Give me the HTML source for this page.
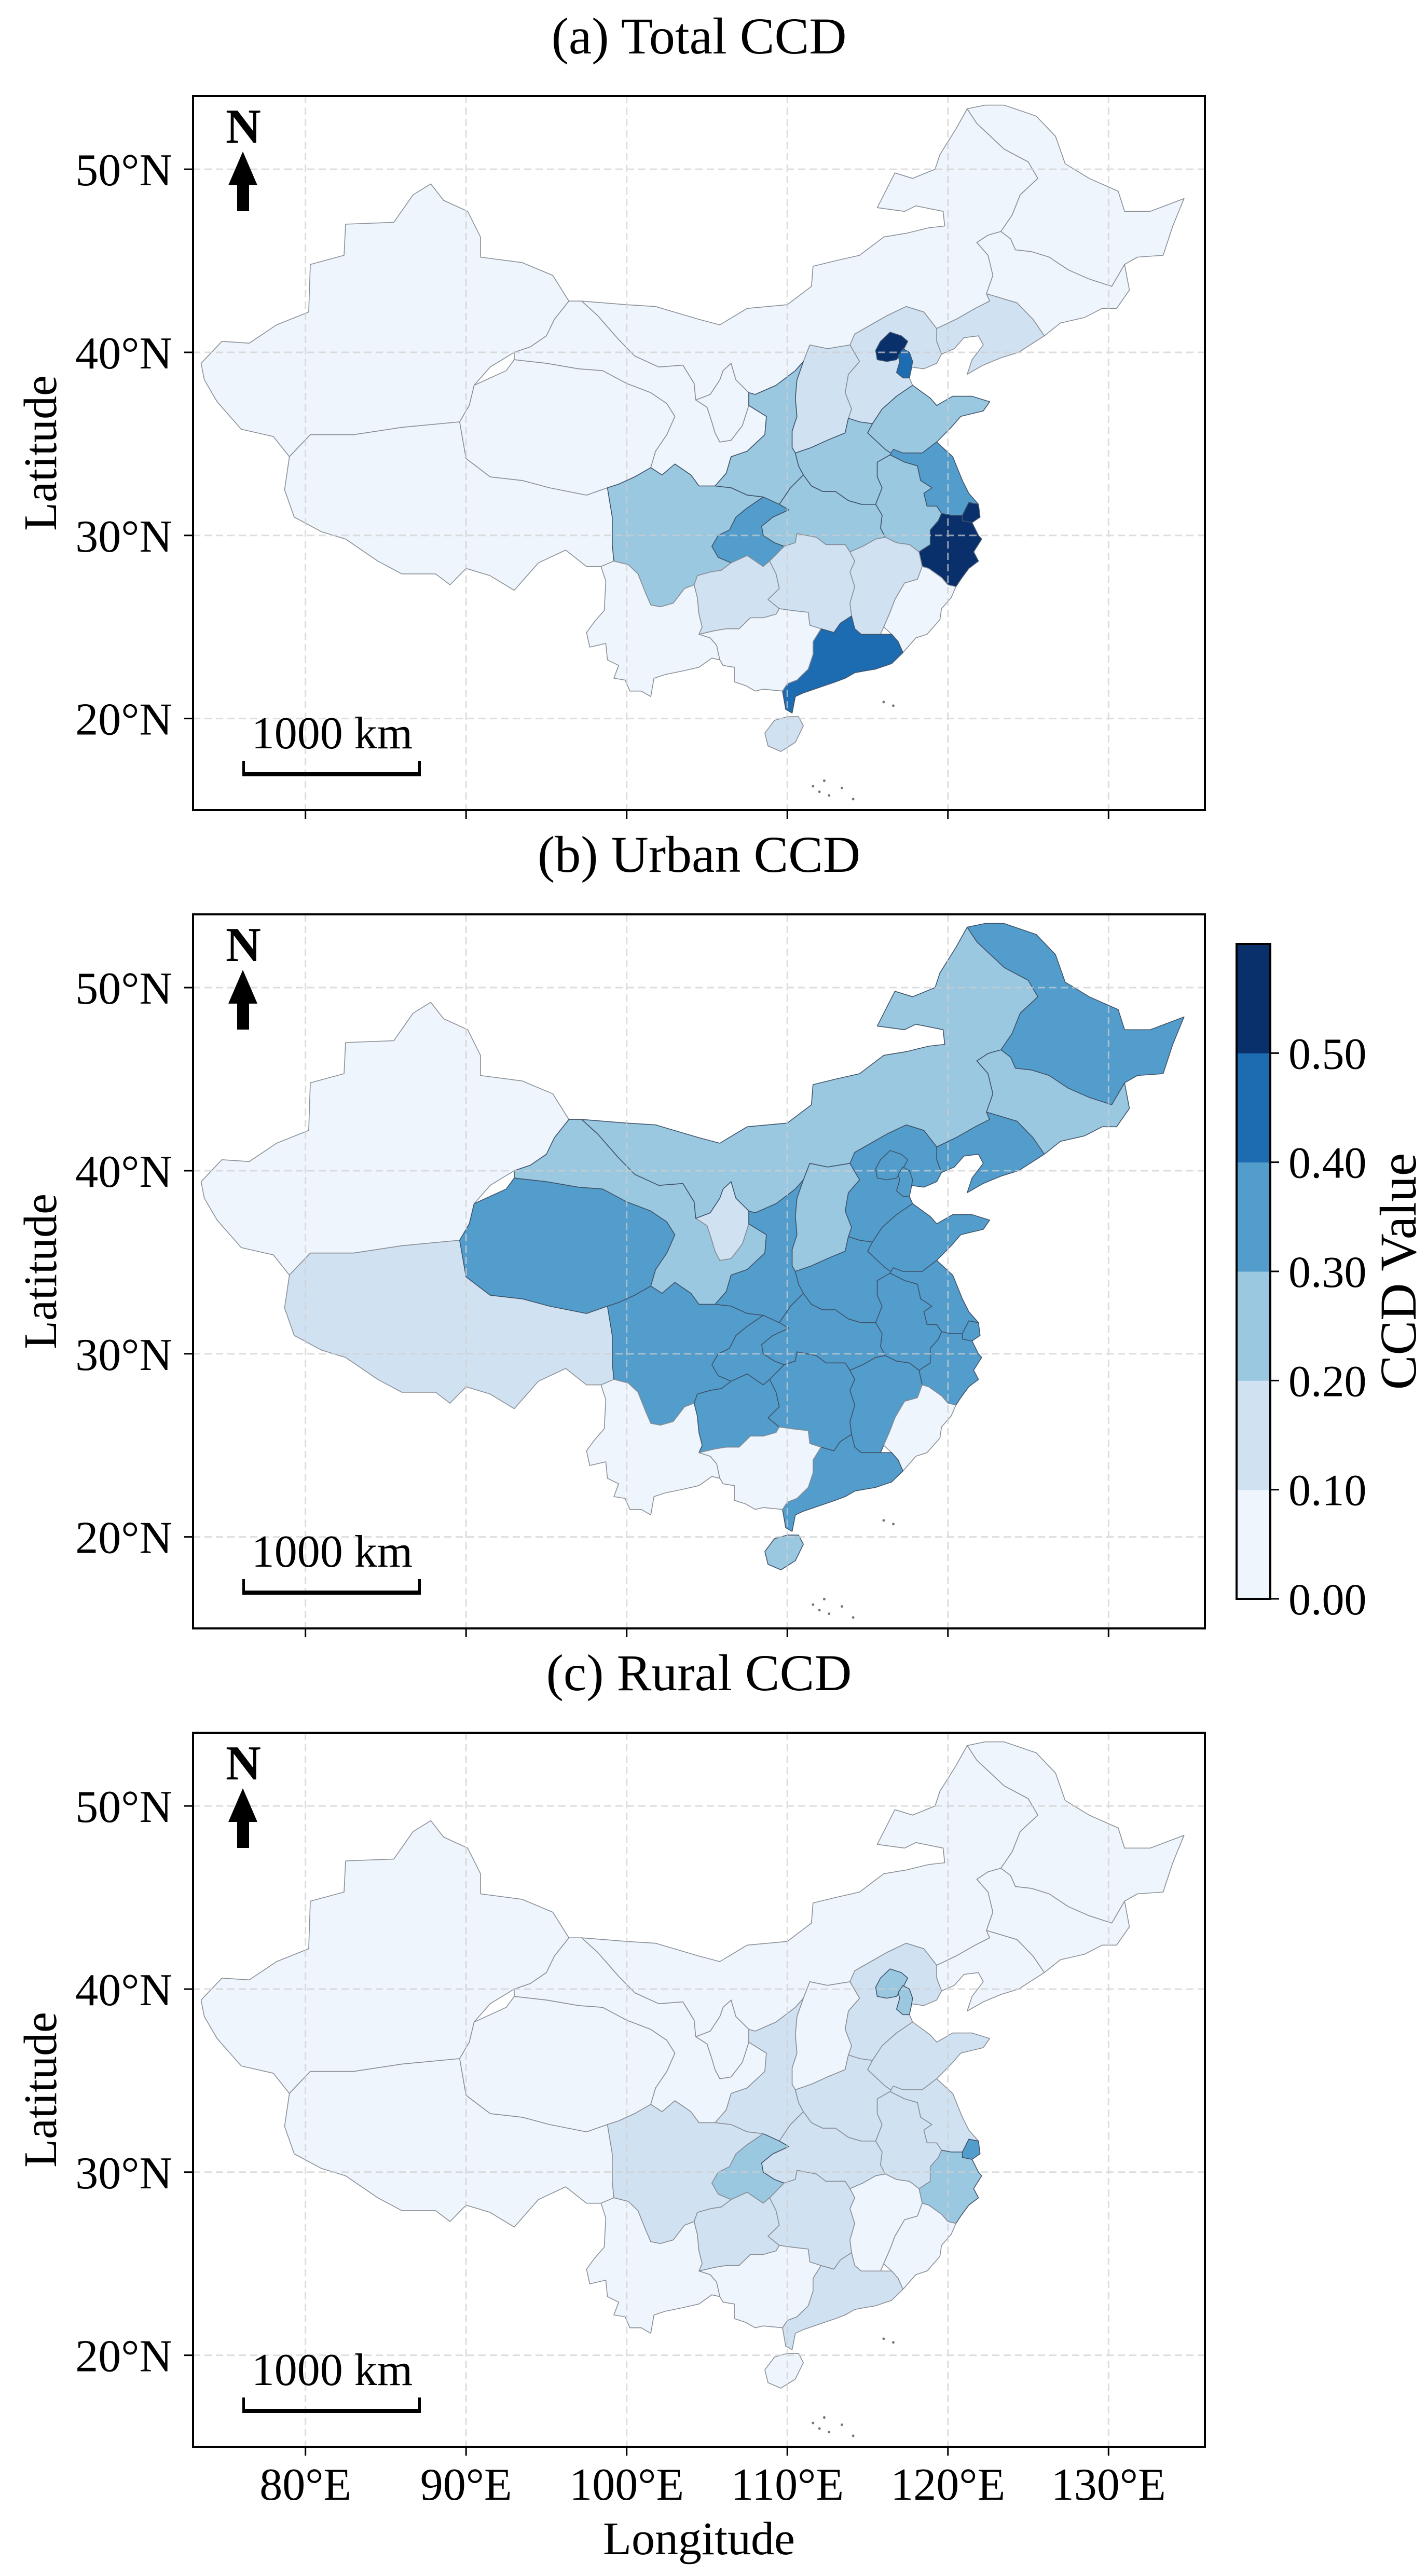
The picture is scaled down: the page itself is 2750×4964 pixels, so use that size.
<!DOCTYPE html>
<html>
<head>
<meta charset="utf-8">
<style>
html,body{margin:0;padding:0;background:#fff;}
svg{display:block;}
text{font-family:"Liberation Serif","DejaVu Serif",serif;fill:#000;}
</style>
</head>
<body>
<svg id="fig" xmlns="http://www.w3.org/2000/svg" width="2750" height="4964" viewBox="0 0 2750 4964">
<rect x="0" y="0" width="2750" height="4964" fill="#fff"/>
<g id="panels"></g>
<g id="cbar"></g>
<text x="1347" y="4922" font-size="90" text-anchor="middle">Longitude</text>
</svg>
<script>
// ---------- data ----------
const provinceNames = ["XJ","XZ","QH","GS","NX","NM","HL","JL","LN","HE","BJ","TJ","SX","SN","HA","SD","JS","SH","ZJ","AH","HB","CQ","SC","YN","GZ","HN","JX","FJ","GD","GX","HI"];
const totalCCD = [0.06,0.05,0.07,0.08,0.09,0.08,0.07,0.09,0.15,0.16,0.56,0.45,0.14,0.25,0.26,0.28,0.36,0.58,0.55,0.24,0.27,0.34,0.25,0.08,0.15,0.17,0.16,0.09,0.46,0.08,0.14];
const urbanCCD = [0.07,0.15,0.34,0.25,0.17,0.26,0.33,0.27,0.35,0.34,0.36,0.35,0.27,0.34,0.35,0.36,0.38,0.38,0.37,0.34,0.35,0.34,0.33,0.08,0.32,0.34,0.33,0.09,0.36,0.09,0.24];
const ruralCCD = [0.04,0.05,0.05,0.06,0.07,0.06,0.07,0.08,0.09,0.15,0.25,0.24,0.09,0.14,0.16,0.17,0.18,0.33,0.26,0.15,0.16,0.25,0.14,0.06,0.13,0.15,0.09,0.08,0.14,0.07,0.08];
const panelTitles = ["(a) Total CCD","(b) Urban CCD","(c) Rural CCD"];
const lonTicks = [80,90,100,110,120,130];
const latTicks = [20,30,40,50];
const cbarTicks = [0.0,0.1,0.2,0.3,0.4,0.5];
const binColors = ["#eef5fc","#d0e1f2","#9ac8e0","#529dcc","#1d6cb1","#0a306b"];
const provinceShapes = {
XJ:[[73.5,39.4],[74.8,40.6],[76.5,40.5],[78.2,41.5],[80.2,42.2],[80.3,44.8],[82.4,45.3],[82.5,47.0],[85.5,47.1],[86.7,48.6],[87.8,49.2],[88.6,48.3],[90.1,47.7],[90.9,46.3],[90.9,45.2],[93.5,44.9],[95.4,44.2],[96.4,42.8],[95.5,41.8],[95,40.9],[94,40.3],[93,40.0],[91.5,39.2],[90.5,38.2],[90.2,37.1],[89.6,36.2],[86,35.9],[83,35.5],[80.3,35.5],[79,34.3],[78,35.4],[76,35.8],[75,36.8],[74.5,37.3],[73.7,38.5]],
XZ:[[79,34.3],[80.3,35.5],[83,35.5],[86,35.9],[89.6,36.2],[90,34.2],[91.5,33.2],[93.5,33.0],[95.2,32.6],[97.5,32.2],[98.8,32.6],[99.1,31.0],[99.1,29.5],[99.2,28.6],[98.4,28.3],[97.5,28.3],[96.2,29.2],[94.5,28.5],[93,27],[91.5,27.8],[90,28.2],[89,27.3],[88.1,27.9],[86,27.9],[84.5,28.6],[82.5,29.8],[81,30.2],[79.3,31.0],[78.7,32.5]],
QH:[[89.6,36.2],[90.2,37.1],[90.5,38.2],[92.5,39.0],[93,39.6],[95,39.4],[97,39.1],[98.5,39.0],[100,38.3],[101.5,37.8],[102.5,37.2],[103,36.5],[102.5,35.5],[101.8,34.6],[101.5,33.7],[100.5,33.2],[99.5,32.8],[98.8,32.6],[97.5,32.2],[95.2,32.6],[93.5,33.0],[91.5,33.2],[90,34.2]],
GS:[[96.4,42.8],[97.2,42.8],[98.2,42.0],[99.5,40.7],[100.5,39.8],[102,39.2],[103.5,39.3],[104.2,38.3],[104.3,37.4],[105,37.0],[105.3,36.2],[105.5,35.6],[105.8,35.1],[106.5,35.2],[107.2,36.0],[107.6,37.1],[108.7,36.5],[108.6,35.5],[107.5,34.6],[106.5,34.3],[106.2,33.4],[105.5,32.7],[104.5,32.7],[104,33.3],[103,33.9],[102.2,33.3],[101.5,33.7],[101.8,34.6],[102.5,35.5],[103,36.5],[102.5,37.2],[101.5,37.8],[100,38.3],[98.5,39.0],[97,39.1],[95,39.4],[93,39.6],[93,40.0],[94,40.3],[95,40.9],[95.5,41.8]],
NX:[[106.5,39.4],[106.8,38.5],[107.6,37.8],[107.6,37.1],[107.2,36.0],[106.5,35.2],[105.8,35.1],[105.5,35.6],[105.3,36.2],[105,37.0],[104.3,37.4],[105.2,37.7],[105.8,38.5],[106.0,39.0]],
NM:[[97.2,42.8],[100,42.6],[101.8,42.5],[104.5,41.8],[105.8,41.5],[107.5,42.4],[110,42.6],[111.5,43.6],[111.6,44.7],[113,45.0],[114.5,45.3],[116,46.3],[117.4,46.5],[118.8,46.8],[119.8,46.9],[119.7,47.7],[118,48.0],[117.3,47.7],[115.6,47.9],[116.7,49.8],[117.8,49.5],[119.2,50.0],[119.5,50.8],[120.5,52.2],[121.2,53.3],[121.8,52.5],[123.5,51.1],[125,50.4],[125.6,49.5],[124.5,48.6],[124,47.5],[123.3,46.6],[122.5,46.4],[121.8,46.0],[122.5,45.3],[122.8,44.2],[122.4,43.2],[122.6,42.8],[121.7,42.4],[120.5,41.8],[119.3,41.3],[118.5,42.2],[117.4,42.5],[116.2,42.0],[115.4,41.6],[114.2,41.0],[113.9,40.4],[112.5,40.2],[111.4,40.4],[111,39.5],[110.5,39.0],[109.3,38.2],[108,37.7],[107.6,37.8],[106.8,38.5],[106.5,39.4],[106,39.0],[105.8,38.5],[105.2,37.7],[104.3,37.4],[104.2,38.3],[103.5,39.3],[102,39.2],[100.5,39.8],[99.5,40.7],[98.2,42.0]],
HL:[[121.2,53.3],[122.3,53.5],[123.5,53.5],[125.5,52.9],[126.7,51.8],[127.3,50.3],[128.8,49.5],[130.6,48.8],[131,47.7],[132.6,47.7],[134.7,48.4],[134,46.9],[133.4,45.3],[131.8,45.2],[131,44.8],[130.2,43.6],[128.8,44.0],[127.5,44.5],[126.3,45.2],[125.2,45.5],[124.2,45.6],[123.9,46.2],[123.3,46.6],[124,47.5],[124.5,48.6],[125.6,49.5],[125,50.4],[123.5,51.1],[121.8,52.5]],
JL:[[121.8,46.0],[122.5,46.4],[123.3,46.6],[123.9,46.2],[124.2,45.6],[125.2,45.5],[126.3,45.2],[127.5,44.5],[128.8,44.0],[130.2,43.6],[131,44.8],[131.3,43.4],[130.5,42.4],[129.6,42.4],[128.5,41.9],[127,41.6],[126,40.9],[125.3,41.8],[124.3,42.7],[122.4,43.2],[122.8,44.2],[122.5,45.3]],
LN:[[122.4,43.2],[124.3,42.7],[125.3,41.8],[126,40.9],[124.4,40.0],[123.3,39.7],[122.2,39.3],[121.2,38.8],[121.5,39.6],[122.2,40.4],[121.9,40.9],[121,40.8],[120.4,40.2],[119.6,39.9],[119.3,40.6],[119.3,41.3],[120.5,41.8],[121.7,42.4],[122.6,42.8]],
HE:[[119.6,39.9],[119.3,40.6],[119.3,41.3],[118.5,42.2],[117.4,42.5],[116.2,42.0],[115.4,41.6],[114.2,41.0],[113.9,40.4],[114.5,39.5],[113.8,38.8],[113.6,37.8],[114,36.9],[113.8,36.4],[114.5,36.2],[115.3,36.1],[115.9,36.9],[116.8,37.6],[117.8,38.2],[117.6,38.6],[117.7,39.2],[118.5,39.1],[119.3,39.4]],
BJ:[[115.8,40.6],[116.4,41.1],[117.1,40.9],[117.5,40.6],[117.2,40.1],[116.8,39.6],[116.2,39.5],[115.6,39.6],[115.5,40.1]],
TJ:[[117.2,40.2],[117.6,40.0],[117.8,39.5],[117.7,39.0],[117.6,38.6],[117.2,38.6],[116.8,38.9],[117.0,39.5],[116.9,39.8]],
SX:[[113.9,40.4],[112.5,40.2],[111.4,40.4],[111,39.5],[110.6,38.5],[110.5,37.5],[110.6,36.5],[110.3,35.7],[110.3,34.8],[110.5,34.5],[111.5,34.8],[112.5,35.2],[113.6,35.6],[113.8,36.4],[114,36.9],[113.6,37.8],[113.8,38.8],[114.5,39.5]],
SN:[[111,39.5],[110.6,38.5],[110.5,37.5],[110.6,36.5],[110.3,35.7],[110.3,34.8],[110.5,34.5],[110.7,33.8],[111,33.3],[110.2,32.6],[109.5,31.7],[108.5,32.1],[107.5,32.2],[106.5,32.6],[105.5,32.7],[106.2,33.4],[106.5,34.3],[107.5,34.6],[108.6,35.5],[108.7,36.5],[107.6,37.1],[107.6,37.8],[108,37.7],[109.3,38.2],[110.5,39.0]],
HA:[[110.5,34.5],[111.5,34.8],[112.5,35.2],[113.6,35.6],[113.8,36.4],[114.5,36.2],[115.3,36.1],[115,35.6],[116.1,34.7],[116.6,34.4],[115.6,34.0],[115.6,33.2],[115.9,32.6],[115.5,31.7],[114.6,31.7],[113.8,31.9],[113,32.4],[112.2,32.4],[111.5,32.7],[111,33.3],[110.7,33.8]],
SD:[[115.3,36.1],[115.9,36.9],[116.8,37.6],[117.8,38.2],[118.9,37.5],[119.3,37.1],[120.3,37.6],[121.5,37.6],[122.6,37.3],[122.2,36.8],[120.8,36.5],[120.2,35.9],[119.3,35.1],[118.4,34.5],[117.2,34.5],[116.6,34.4],[116.1,34.7],[115,35.6]],
JS:[[119.3,35.1],[120.3,34.3],[120.9,33.0],[121.3,32.3],[121.9,31.7],[121.3,31.8],[120.9,31.1],[120.2,31.1],[119.6,31.2],[119.3,31.6],[118.7,31.6],[118.5,32.3],[119.0,32.6],[118.3,33.0],[118.1,33.8],[117.3,34.0],[116.4,34.4],[116.6,34.7],[117.2,34.5],[118.4,34.5]],
SH:[[121.3,31.8],[121.9,31.7],[122.0,31.0],[121.5,30.7],[120.9,30.8],[120.9,31.1]],
ZJ:[[120.9,31.1],[120.9,30.8],[121.5,30.7],[121.9,30.0],[122.1,29.8],[121.6,29.1],[121.9,28.6],[121.3,28.2],[120.8,27.6],[120.5,27.2],[120.0,27.3],[119.6,27.7],[118.8,28.2],[118.4,28.3],[118.2,29.1],[118.9,29.5],[118.9,30.3],[119.4,30.8],[119.6,31.2],[120.2,31.1]],
AH:[[116.4,34.4],[117.3,34.0],[118.1,33.8],[118.3,33.0],[119.0,32.6],[118.5,32.3],[118.7,31.6],[119.3,31.6],[119.6,31.2],[119.4,30.8],[118.9,30.3],[118.9,29.5],[118.2,29.1],[117.6,29.5],[116.8,29.6],[116.1,29.9],[115.8,30.4],[115.9,31.1],[115.5,31.7],[115.9,32.6],[115.6,33.2],[115.6,34.0]],
HB:[[110.2,32.6],[111,33.3],[111.5,32.7],[112.2,32.4],[113,32.4],[113.8,31.9],[114.6,31.7],[115.5,31.7],[115.9,31.1],[115.8,30.4],[116.1,29.9],[115.5,29.8],[114.7,29.4],[113.9,29.1],[113.6,29.5],[112.4,29.5],[111.8,29.9],[110.6,30.1],[110.5,29.6],[109.8,29.4],[109.2,29.6],[108.5,30.0],[108.4,30.5],[109.1,31.0],[110.1,31.4],[109.5,31.7]],
CQ:[[109.5,31.7],[110.1,31.4],[109.1,31.0],[108.4,30.5],[108.5,30.0],[109.2,29.6],[109.8,29.4],[108.9,28.6],[108.5,28.3],[107.5,28.9],[106.5,28.5],[105.7,28.8],[105.3,29.4],[105.7,30.0],[106.4,30.3],[106.8,31.0],[107.5,31.5],[108.5,32.1]],
SC:[[98.8,32.6],[99.5,32.8],[100.5,33.2],[101.5,33.7],[102.2,33.3],[103,33.9],[104,33.3],[104.5,32.7],[105.5,32.7],[106.5,32.6],[107.5,32.2],[108.5,32.1],[107.5,31.5],[106.8,31.0],[106.4,30.3],[105.7,30.0],[105.3,29.4],[105.7,28.8],[106.5,28.5],[105.9,28.1],[105.2,28.0],[104.4,27.8],[104.2,27.3],[103.6,27.1],[102.9,26.3],[102.1,26.1],[101.5,26.2],[101.2,26.8],[100.7,27.9],[100.1,28.4],[99.2,28.6],[99.1,29.5],[99.1,31.0]],
YN:[[98.4,28.3],[99.2,28.6],[100.1,28.4],[100.7,27.9],[101.2,26.8],[101.5,26.2],[102.1,26.1],[102.9,26.3],[103.6,27.1],[104.2,27.3],[104.4,26.6],[104.5,25.7],[104.7,25.0],[104.5,24.6],[105.2,24.4],[105.6,24.0],[105.8,23.2],[105.3,23.3],[104.5,22.8],[103.5,22.6],[102.4,22.4],[101.7,22.2],[101.5,21.2],[100.9,21.5],[100.2,21.5],[99.9,22.1],[99.2,22.2],[99.5,22.9],[98.8,23.2],[98.7,24.1],[97.7,23.9],[97.5,24.7],[98.0,25.3],[98.6,25.9],[98.7,27.5]],
GZ:[[104.2,27.3],[104.4,27.8],[105.2,28.0],[105.9,28.1],[106.5,28.5],[107.5,28.9],[108.5,28.3],[108.9,28.6],[109.3,27.9],[109.5,27.1],[108.8,26.5],[109.5,26.0],[109.3,25.7],[108.5,25.5],[107.7,25.5],[107.0,24.9],[106.2,24.9],[105.5,24.8],[104.5,24.6],[104.7,25.0],[104.5,25.7],[104.4,26.6]],
HN:[[108.9,28.6],[109.8,29.4],[110.5,29.6],[110.6,30.1],[111.8,29.9],[112.4,29.5],[113.6,29.5],[113.9,29.1],[114.2,28.6],[113.9,28.0],[114.2,27.2],[113.9,26.3],[114.0,25.6],[113.3,25.2],[112.9,24.7],[112.1,24.9],[111.4,25.1],[111.3,25.8],[110.3,25.9],[109.5,26.0],[108.8,26.5],[109.5,27.1],[109.3,27.9]],
JX:[[113.9,29.1],[114.7,29.4],[115.5,29.8],[116.1,29.9],[116.8,29.6],[117.6,29.5],[118.2,29.1],[118.4,28.3],[118.1,27.6],[117.3,27.4],[116.7,26.5],[116.4,25.8],[116.0,25.0],[115.8,24.6],[115.3,24.6],[114.6,24.6],[114.2,24.9],[114.0,25.6],[113.9,26.3],[114.2,27.2],[113.9,28.0],[114.2,28.6]],
FJ:[[118.4,28.3],[118.8,28.2],[119.6,27.7],[120.0,27.3],[120.5,27.2],[120.2,26.6],[119.6,26.0],[119.5,25.4],[118.7,24.6],[118.0,24.4],[117.2,23.6],[116.9,24.2],[116.5,24.6],[116.0,25.0],[116.4,25.8],[116.7,26.5],[117.3,27.4],[118.1,27.6]],
GD:[[116.5,24.6],[116.9,24.2],[117.2,23.6],[116.5,23.0],[115.5,22.7],[114.8,22.6],[114.2,22.5],[113.6,22.2],[113.0,22.0],[112.0,21.7],[111.0,21.4],[110.5,21.2],[110.3,20.3],[109.9,20.5],[109.7,21.5],[110.0,21.9],[110.6,22.1],[111.3,22.7],[111.6,23.5],[111.6,24.2],[112.1,24.9],[112.9,24.7],[113.3,25.2],[114.0,25.6],[114.2,24.9],[114.6,24.6],[115.3,24.6],[115.8,24.6]],
GX:[[104.5,24.6],[105.5,24.8],[106.2,24.9],[107.0,24.9],[107.7,25.5],[108.5,25.5],[109.3,25.7],[109.5,26.0],[110.3,25.9],[111.3,25.8],[111.4,25.1],[112.1,24.9],[111.6,24.2],[111.6,23.5],[111.3,22.7],[110.6,22.1],[110.0,21.9],[109.7,21.5],[108.5,21.6],[108.0,21.5],[107.4,21.8],[106.7,22.0],[106.7,22.8],[106.0,22.9],[105.8,23.2],[105.6,24.0],[105.2,24.4]],
HI:[[108.6,19.2],[109.2,19.9],[110.0,20.1],[110.7,20.1],[111.0,19.6],[110.5,18.7],[109.6,18.2],[108.8,18.5]]
};
const islandLon = [116.0,116.6,111.6,112.0,112.3,112.6,113.4,114.1];
const islandLat = [20.9,20.7,16.3,16.0,16.6,15.8,16.2,15.6];

// ---------- layout ----------
const NS = "http://www.w3.org/2000/svg";
const AX_L = 372, AX_R = 2322, LON0 = 73.0, LON1 = 136.0;
const LAT0 = 15.0, LAT1 = 54.0, PANEL_H = 1376;
const panelTops = [185, 1762, 3339];
function xOf(lon){ return AX_L + (lon - LON0) / (LON1 - LON0) * (AX_R - AX_L); }
function yOf(lat, top){ return top + (LAT1 - lat) / (LAT1 - LAT0) * PANEL_H; }
function binOf(v){ let b = Math.floor(v / 0.1 + 1e-9); return Math.max(0, Math.min(5, b)); }
function mk(tag, attrs, parent){ const e = document.createElementNS(NS, tag); for (const k in attrs) e.setAttribute(k, attrs[k]); parent.appendChild(e); return e; }

const panelsG = document.getElementById('panels');
const series = [totalCCD, urbanCCD, ruralCCD];
const panelKeys = ['total','urban','rural'];

series.forEach((vals, pi) => {
  const top = panelTops[pi], bot = top + PANEL_H;
  const g = mk('g', {}, panelsG);
  
  
  const cid = 'clip' + pi;
  const cp = mk('clipPath', {id: cid}, g);
  mk('rect', {x: AX_L, y: top, width: AX_R - AX_L, height: PANEL_H}, cp);
  // title
  const t = mk('text', {x: (AX_L + AX_R) / 2, y: top - 82, 'font-size': 100, 'text-anchor': 'middle'}, g);
  t.textContent = panelTitles[pi];
  
  
  // provinces
  const mapG = mk('g', {'clip-path': 'url(#' + cid + ')'}, g);
  
  
  provinceNames.forEach((nm, i) => {
    const pts = provinceShapes[nm].map(p => xOf(p[0]).toFixed(1) + ',' + yOf(p[1], top).toFixed(1)).join(' ');
    const b = binOf(vals[i]);
    const poly = mk('polygon', {points: pts, fill: binColors[b], stroke: b >= 2 ? '#40536a' : '#8a8f96', 'stroke-width': 1.6, 'stroke-linejoin': 'round'}, mapG);
    
    
  });
  islandLon.forEach((lo, i) => {
    const c = mk('circle', {cx: xOf(lo), cy: yOf(islandLat[i], top), r: 2.5, fill: '#777'}, mapG);
    
    
  });
  // gridlines
  const gridG = mk('g', {stroke: '#cfcfcf', 'stroke-width': 3, 'stroke-dasharray': '14,8', opacity: 0.7}, g);
  
  
  lonTicks.forEach(lo => { mk('line', {x1: xOf(lo), x2: xOf(lo), y1: top, y2: bot}, gridG); });
  latTicks.forEach(la => { mk('line', {x1: AX_L, x2: AX_R, y1: yOf(la, top), y2: yOf(la, top)}, gridG); });
  // frame
  const fr = mk('rect', {x: AX_L, y: top, width: AX_R - AX_L, height: PANEL_H, fill: 'none', stroke: '#000', 'stroke-width': 4}, g);
  
  
  // y ticks
  latTicks.forEach(la => {
    const y = yOf(la, top);
    mk('line', {x1: AX_L - 17, x2: AX_L, y1: y, y2: y, stroke: '#000', 'stroke-width': 3}, g);
    const tl = mk('text', {x: AX_L - 40, y: y + 31, 'font-size': 88, 'text-anchor': 'end'}, g);
    tl.textContent = la + '°N';
    
    
  });
  // x ticks
  lonTicks.forEach(lo => {
    const x = xOf(lo);
    mk('line', {x1: x, x2: x, y1: bot, y2: bot + 17, stroke: '#000', 'stroke-width': 3}, g);
    if (pi === 2) {
      const tl = mk('text', {x: x, y: bot + 102, 'font-size': 88, 'text-anchor': 'middle'}, g);
      tl.textContent = lo + '°E';
      
      
    }
  });
  // y axis title
  const yt = mk('text', {x: 0, y: 0, 'font-size': 90, 'text-anchor': 'middle', transform: 'translate(108,' + (top + PANEL_H / 2) + ') rotate(-90)'}, g);
  yt.textContent = 'Latitude';
  
  
  // north arrow
  const na = mk('g', {}, g);
  
  
  const nt = mk('text', {x: 469, y: top + 90, 'font-size': 94, 'font-weight': 'bold', 'text-anchor': 'middle'}, na);
  nt.textContent = 'N';
  mk('polygon', {points: '468,' + (top + 107) + ' 496,' + (top + 172) + ' 440,' + (top + 172), fill: '#000'}, na);
  mk('rect', {x: 457, y: top + 170, width: 23, height: 52, fill: '#000'}, na);
  // scale bar
  const sb = mk('g', {}, g);
  
  
  const st = mk('text', {x: 640, y: bot - 119, 'font-size': 88, 'text-anchor': 'middle'}, sb);
  st.textContent = '1000 km';
  mk('rect', {x: 467, y: bot - 73, width: 344, height: 8, fill: '#000'}, sb);
  mk('rect', {x: 467, y: bot - 95, width: 5, height: 30, fill: '#000'}, sb);
  mk('rect', {x: 806, y: bot - 95, width: 5, height: 30, fill: '#000'}, sb);
});

// ---------- colorbar ----------
const cb = document.getElementById('cbar');
const CB_X = 2383, CB_W = 65, CB_T = 1819, CB_B = 3081, CB_MAX = 0.6;
function cbY(v){ return CB_B - v / CB_MAX * (CB_B - CB_T); }
binColors.forEach((c, i) => {
  const r = mk('rect', {x: CB_X, y: cbY((i + 1) * 0.1), width: CB_W, height: cbY(i * 0.1) - cbY((i + 1) * 0.1) + 0.5, fill: c}, cb);
  
  
});
mk('rect', {x: CB_X, y: CB_T, width: CB_W, height: CB_B - CB_T, fill: 'none', stroke: '#000', 'stroke-width': 4}, cb);
cbarTicks.forEach(v => {
  const y = cbY(v);
  mk('line', {x1: CB_X + CB_W, x2: CB_X + CB_W + 17, y1: y, y2: y, stroke: '#000', 'stroke-width': 3}, cb);
  const tl = mk('text', {x: CB_X + CB_W + 35, y: y + 30, 'font-size': 86}, cb);
  tl.textContent = v.toFixed(2);
  
  
});
const cbt = mk('text', {x: 0, y: 0, 'font-size': 100, 'text-anchor': 'middle', transform: 'translate(2728,' + ((CB_T + CB_B) / 2) + ') rotate(-90)'}, cb);
cbt.textContent = 'CCD Value';


</script>
</body>
</html>
